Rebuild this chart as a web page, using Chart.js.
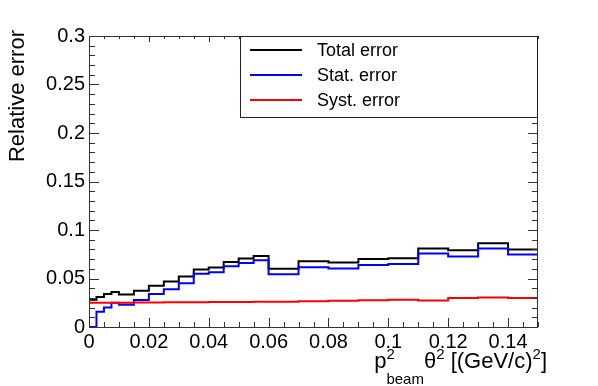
<!DOCTYPE html>
<html>
<head>
<title>Relative error</title>
<meta charset="utf-8">
<script src="https://cdn.jsdelivr.net/npm/chart.js@4/dist/chart.umd.min.js"></script>
<style>
  body { margin: 0; background: #fff; }
  #wrap { position: relative; width: 598px; height: 386px; }
</style>
</head>
<body>
<div id="wrap"><canvas id="errChart"></canvas></div>
<script>
// bin edges (variable width) and bin contents
const edges = [0, 0.0025, 0.005, 0.0075, 0.01, 0.015, 0.02, 0.025, 0.03, 0.035, 0.04, 0.045,
               0.05, 0.055, 0.06, 0.07, 0.08, 0.09, 0.1, 0.11, 0.12, 0.13, 0.14, 0.15];
const totalErr = [0.028, 0.031, 0.034, 0.036, 0.0336, 0.0373, 0.0425, 0.047, 0.052, 0.0593, 0.0613,
                  0.067, 0.0706, 0.0733, 0.0600, 0.0678, 0.0665, 0.0700, 0.0709, 0.0808, 0.0790, 0.0863, 0.0798];
const statErr = [0, 0.0158, 0.020, 0.025, 0.023, 0.0278, 0.034, 0.039, 0.045, 0.0548, 0.0565,
                 0.0627, 0.066, 0.0689, 0.0545, 0.0617, 0.0603, 0.0640, 0.0650, 0.0757, 0.0726, 0.0808, 0.0747];
const systErr = [0.025, 0.025, 0.025, 0.025, 0.025, 0.0252, 0.0253, 0.0254, 0.0255, 0.0256, 0.0257,
                 0.0258, 0.0259, 0.026, 0.026, 0.0265, 0.027, 0.0276, 0.028, 0.0272, 0.0298, 0.0305, 0.0298];
const seriesNames = ['Total error', 'Stat. error', 'Syst. error'];
const seriesColors = ['#000000', '#0000ff', '#ff0000'];

const FONT = "'Liberation Sans', Arial, sans-serif";

// histogram outline: one point per low edge, plus the last upper edge
function histPoints(vals) {
    var pts = vals.map(function(v, i) { return {x: edges[i], y: v}; });
    pts.push({x: edges[edges.length - 1], y: vals[vals.length - 1]});
    return pts;
}

function makeSet(i, vals) {
    return {
        label: seriesNames[i],
        data: histPoints(vals),
        borderColor: seriesColors[i],
        backgroundColor: seriesColors[i],
        borderWidth: 2,
        stepped: 'before',
        pointRadius: 0,
        fill: false,
        order: 3 - i
    };
}

// ROOT style frame, inward ticks, titles and legend box
var rootStyle = {
    id: 'rootStyle',
    afterDraw: function(chart) {
        var ctx = chart.ctx, a = chart.chartArea;
        var xs = chart.scales.x, ys = chart.scales.y;
        ctx.save();
        ctx.strokeStyle = '#333';
        ctx.lineWidth = 1;
        ctx.beginPath();
        var i, p, len;
        for (i = 0; i <= 30; i++) { // x ticks every 0.005, major every 0.02
            p = Math.round(xs.getPixelForValue(i * 0.005)) + 0.5;
            len = (i % 4 === 0) ? 9 : 5;
            ctx.moveTo(p, a.bottom); ctx.lineTo(p, a.bottom - len);
            len = (i % 4 === 0) ? 6 : 3;
            ctx.moveTo(p, a.top); ctx.lineTo(p, a.top + len);
        }
        for (i = 0; i <= 30; i++) { // y ticks every 0.01, major every 0.05
            p = Math.round(ys.getPixelForValue(i * 0.01)) + 0.5;
            len = (i % 5 === 0) ? 10 : 6;
            ctx.moveTo(a.left, p); ctx.lineTo(a.left + len, p);
            ctx.moveTo(a.right, p); ctx.lineTo(a.right - len, p);
        }
        ctx.stroke();
        ctx.strokeRect(Math.round(a.left) + 0.5, Math.round(a.top) + 0.5,
                       Math.round(a.right - a.left) - 1, Math.round(a.bottom - a.top));

        // legend
        var lx = 240, ly = Math.round(a.top), lw = Math.round(a.right) - lx, lh = 81;
        ctx.fillStyle = '#fff';
        ctx.fillRect(lx + 0.5, ly + 0.5, lw - 1, lh);
        ctx.strokeStyle = '#222';
        ctx.strokeRect(lx + 0.5, ly + 0.5, lw - 1, lh);
        ctx.font = '18px ' + FONT;
        ctx.textBaseline = 'middle';
        ctx.textAlign = 'left';
        chart.data.datasets.forEach(function(ds, k) {
            var ry = ly + 14 + k * 25;
            ctx.strokeStyle = ds.borderColor;
            ctx.lineWidth = 2;
            ctx.beginPath();
            ctx.moveTo(250, ry); ctx.lineTo(302, ry);
            ctx.stroke();
            ctx.fillStyle = '#000';
            ctx.fillText(ds.label, 317, ry + 1);
        });

        // y title
        ctx.fillStyle = '#000';
        ctx.font = '22px ' + FONT;
        ctx.save();
        ctx.translate(24, 30);
        ctx.rotate(-Math.PI / 2);
        ctx.textAlign = 'right';
        ctx.textBaseline = 'alphabetic';
        ctx.fillText('Relative error', 0, 0);
        ctx.restore();

        // x title: p^2_beam theta^2 [(GeV/c)^2], right aligned
        var big = '22px ' + FONT, small = '15px ' + FONT;
        var base = 362, supY = 355, subY = 380;
        var parts = [
            {t: 'p', f: big, y: base},
            {t: '2', f: small, y: supY, stack: true},
            {t: 'beam', f: small, y: subY},
            {t: '\u03b8', f: big, y: base},
            {t: '2', f: small, y: supY},
            {t: ' [(GeV/c)', f: big, y: base},
            {t: '2', f: small, y: supY},
            {t: ']', f: big, y: base}
        ];
        var total = 0;
        parts.forEach(function(pt) {
            ctx.font = pt.f;
            pt.w = pt.stack ? 0 : ctx.measureText(pt.t).width;
            total += pt.w;
        });
        var cx = 546 - total;
        ctx.textAlign = 'left';
        parts.forEach(function(pt) {
            ctx.font = pt.f;
            ctx.fillText(pt.t, cx + 1, pt.y);
            cx += pt.w;
        });
        ctx.restore();
    }
};

var ctx = document.getElementById('errChart').getContext('2d');
var chart = new Chart(ctx, {
    type: 'line',
    data: {
        datasets: [makeSet(0, totalErr), makeSet(1, statErr), makeSet(2, systErr)]
    },
    options: {
        responsive: true,
        maintainAspectRatio: false,
        animation: false,
        layout: { padding: { left: 0, top: 36, right: 60, bottom: 0 } },
        plugins: { legend: { display: false }, tooltip: { enabled: false } },
        scales: {
            x: {
                type: 'linear',
                min: 0, max: 0.15,
                grid: { display: false, drawTicks: false },
                border: { display: false },
                afterFit: function(s) { s.height = 59; },
                ticks: {
                    stepSize: 0.02,
                    includeBounds: false,
                    maxRotation: 0,
                    padding: 3,
                    color: '#000',
                    font: { family: FONT, size: 20 },
                    callback: function(v) { return String(+v.toFixed(3)); }
                }
            },
            y: {
                min: 0, max: 0.3,
                grid: { display: false, drawTicks: false },
                border: { display: false },
                afterFit: function(s) { s.width = 89; },
                ticks: {
                    stepSize: 0.05,
                    padding: 4,
                    color: '#000',
                    font: { family: FONT, size: 20 },
                    callback: function(v) { return String(+v.toFixed(3)); }
                }
            }
        }
    },
    plugins: [rootStyle]
});
</script>
</body>
</html>
